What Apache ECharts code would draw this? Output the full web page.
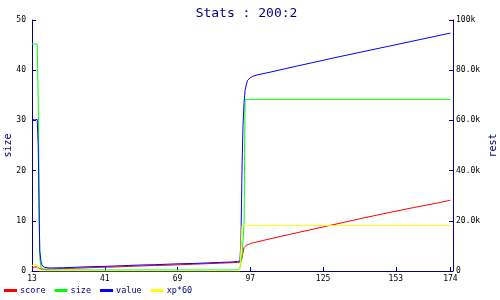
<!DOCTYPE html>
<html><head><meta charset="utf-8">
<script src="https://cdn.jsdelivr.net/npm/echarts@6/dist/echarts.min.js"></script>
<style>html,body{margin:0;padding:0;background:#fff}#c{width:500px;height:300px}</style>
</head><body><div id="c"></div>
<script>
var xs      = [13, 14, 15, 15.2, 15.4, 15.6, 15.8, 16, 16.5, 17, 18, 20, 25, 30, 35, 40, 45, 50, 55, 60, 65, 70, 75, 80, 85, 90, 92, 93, 93.4, 93.8, 94.2, 94.6, 95, 95.5, 96, 97, 98, 100, 105, 110, 120, 130, 140, 150, 160, 170, 174];
var score   = [1.0, 1.6, 1.6, 1.5, 1.0, 1.0, 1.0, 0.9, 0.8, 0.7, 0.7, 0.8, 1.0, 1.1, 1.3, 1.5, 1.6, 1.8, 2.0, 2.2, 2.3, 2.5, 2.7, 2.9, 3.1, 3.3, 3.4, 3.5, 3.6, 5.0, 7.5, 9.3, 10.0, 10.3, 10.6, 10.9, 11.2, 11.7, 12.9, 14.1, 16.4, 18.7, 21.0, 23.2, 25.3, 27.3, 28.2];
var size    = [45.2, 45.2, 45.2, 45.2, 34, 23.5, 10.5, 2.5, 0.6, 0.3, 0.2, 0.2, 0.2, 0.2, 0.2, 0.2, 0.2, 0.2, 0.2, 0.2, 0.2, 0.2, 0.2, 0.2, 0.2, 0.2, 0.2, 0.5, 0.8, 3, 6, 9.5, 34.2, 34.2, 34.2, 34.2, 34.2, 34.2, 34.2, 34.2, 34.2, 34.2, 34.2, 34.2, 34.2, 34.2, 34.2];
var value   = [60.5, 60.2, 60.4, 60, 50, 35, 20, 8, 3.5, 2.0, 1.4, 1.2, 1.3, 1.5, 1.7, 1.8, 2.0, 2.2, 2.4, 2.5, 2.7, 2.9, 3.0, 3.2, 3.4, 3.6, 3.8, 3.9, 12, 40, 58, 67, 72, 74.5, 76, 77, 77.6, 78.2, 79.3, 80.5, 82.8, 85.1, 87.3, 89.5, 91.7, 93.9, 94.8];
var xp60    = [2.2, 2.4, 2.5, 2.5, 1.0, 0.3, 0, 0, 0, 0, 0, 0, 0, 0, 0, 0, 0, 0, 0, 0, 0, 0, 0, 0, 0, 0, 0, 0, 0, 18.1, 18.1, 18.1, 18.1, 18.1, 18.1, 18.1, 18.1, 18.1, 18.1, 18.1, 18.1, 18.1, 18.1, 18.1, 18.1, 18.1, 18.1];
var xTicks  = [13, 41, 69, 97, 125, 153, 174];
var seriesNames = ['score', 'size', 'value', 'xp*60'];

function pairs(arr, mult) { return xs.map(function (x, i) { return [x, arr[i] * mult]; }); }
var NAVY = '#000080';
var FONT = 'DejaVu Sans Mono';
var chart = echarts.init(document.getElementById('c'), null, {renderer: 'canvas'});
function axisCommon() {
  return {
    axisLine: {show: true, lineStyle: {color: NAVY, width: 1}},
    axisTick: {show: true, inside: true, length: 4, lineStyle: {color: NAVY}},
    splitLine: {show: false},
    axisLabel: {color: '#000', fontFamily: FONT, fontSize: 8}
  };
}
var xa = axisCommon();
xa.type = 'value'; xa.min = 13; xa.max = 175;
xa.axisTick.customValues = xTicks;
xa.axisLabel.customValues = xTicks;
xa.axisLabel.margin = 4;
var yl = axisCommon();
yl.type = 'value'; yl.min = 0; yl.max = 50; yl.interval = 10; yl.position = 'left';
yl.name = 'size'; yl.nameLocation = 'middle'; yl.nameGap = 19; yl.nameRotate = 90; yl.nameMoveOverlap = false;
yl.nameTextStyle = {color: NAVY, fontFamily: FONT, fontSize: 10};
yl.axisLabel.margin = 6;
var yr = axisCommon();
yr.type = 'value'; yr.min = 0; yr.max = 100000; yr.interval = 20000; yr.position = 'right';
yr.name = 'rest'; yr.nameLocation = 'middle'; yr.nameGap = 35; yr.nameRotate = 90; yr.nameMoveOverlap = false;
yr.nameTextStyle = {color: NAVY, fontFamily: FONT, fontSize: 10};
yr.axisLabel.margin = 3;
yr.axisLabel.formatter = function (v) { if (v === 0) return '0'; if (v === 100000) return '100k'; return (v / 1000).toFixed(1) + 'k'; };

var colors = ['#ff0000', '#00ff00', '#0000ff', '#ffff00'];
chart.setOption({
  animation: false,
  color: colors,
  title: {text: 'Stats : 200:2', left: 241.5, textAlign: 'center', top: 2,
    textStyle: {color: NAVY, fontFamily: FONT, fontSize: 13, fontWeight: 'normal'}},
  grid: {left: 32, right: 47, top: 20, bottom: 29, containLabel: false, outerBoundsMode: 'none'},
  legend: {left: -1, bottom: 0, icon: 'rect', itemWidth: 13, itemHeight: 3, itemGap: 9,
    data: seriesNames,
    textStyle: {color: NAVY, fontFamily: FONT, fontSize: 8.5, padding: [0, 0, 0, -2]}},
  xAxis: xa,
  yAxis: [yl, yr],
  series: [
    {name: seriesNames[0], type: 'line', yAxisIndex: 1, data: pairs(score, 1000), showSymbol: false, lineStyle: {width: 1}},
    {name: seriesNames[1], type: 'line', yAxisIndex: 0, data: pairs(size, 1), showSymbol: false, lineStyle: {width: 1}},
    {name: seriesNames[2], type: 'line', yAxisIndex: 1, data: pairs(value, 1000), showSymbol: false, lineStyle: {width: 1}},
    {name: seriesNames[3], type: 'line', yAxisIndex: 1, data: pairs(xp60, 1000), showSymbol: false, lineStyle: {width: 1}}
  ]
});
</script></body></html>
